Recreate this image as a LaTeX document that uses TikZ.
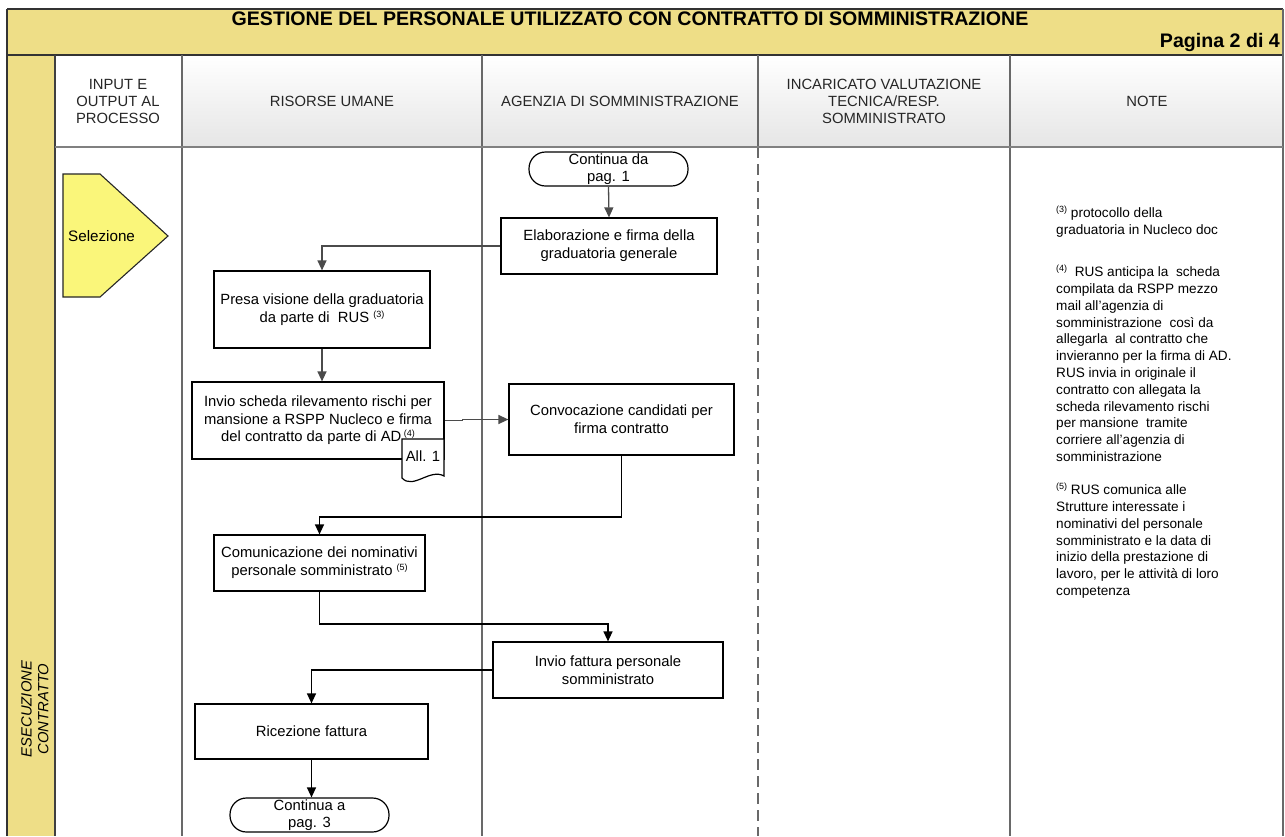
\documentclass[tikz,border=0pt]{standalone}
\usepackage{fontspec}
\setmainfont{Liberation Sans}
\usetikzlibrary{arrows.meta,calc}
\definecolor{band}{RGB}{238,222,135}
\definecolor{selfill}{RGB}{250,246,122}
\definecolor{rulec}{RGB}{105,105,105}
\definecolor{conn}{RGB}{75,75,75}
\newcommand{\boxfont}{\fontsize{14.8}{18}\selectfont}
\newcommand{\hdrfont}{\fontsize{14.8}{17}\selectfont}
\newcommand{\notefont}{\fontsize{13.6}{16.8}\selectfont}
\newcommand{\fnref}[1]{\raisebox{5pt}{\fontsize{9}{9}\selectfont(#1)}}
\begin{document}
\begin{tikzpicture}[x=1pt,y=-1pt,
  proc/.style={draw=black, line width=1.2pt, fill=white, align=center, font=\boxfont, inner sep=0pt},
  term/.style={proc, rounded corners=16.5pt},
  flow/.style={draw=conn, line width=1.3pt, -{Triangle[length=10pt,width=9pt]}},
  flowb/.style={draw=black, line width=1.3pt, -{Triangle[length=10pt,width=9pt]}},
  hdr/.style={align=center, font=\hdrfont, text=black!85, inner sep=0pt},
  lane/.style={draw=rulec, line width=1.3pt},
  note/.style={align=left, font=\notefont, inner sep=0pt, anchor=north west}]
\useasboundingbox (0,0) rectangle (1285,836);
\fill[white] (0,0) rectangle (1285,836);
% title band and left strip
\fill[band] (7,9) rectangle (1283,55);
\fill[band] (7,55) rectangle (55,836);
% header cells
\fill[white] (55,55) rectangle (182,147);
\shade[top color=white, bottom color=black!10] (182,55) rectangle (1283,147);
% frame lines
\draw[black!80, line width=1.2pt] (7,9) -- (1283,9);
\draw[black!80, line width=1.2pt] (7,55) -- (1283,55);
\draw[black!80, line width=1.2pt] (7,9) -- (7,836);
\draw[lane] (1283,9) -- (1283,836);
\draw[black!75, line width=1.2pt] (55,55) -- (55,836);
\draw[lane] (182,55) -- (182,836);
\draw[lane] (482,55) -- (482,836);
\draw[lane] (758,55) -- (758,147);
\draw[lane, dash pattern=on 11pt off 6pt] (758,147) -- (758,836);
\draw[lane] (1010,55) -- (1010,836);
\draw[draw=black!50, line width=2.2pt] (55,147) -- (1283,147);
% titles
\node[font=\bfseries\fontsize{19.6}{22}\selectfont, inner sep=0pt] (title) at (630,19) {GESTIONE DEL PERSONALE UTILIZZATO CON CONTRATTO DI SOMMINISTRAZIONE};
\node[font=\bfseries\fontsize{19.6}{22}\selectfont, inner sep=0pt, anchor=east] (pag) at (1280,42) {Pagina 2 di 4};
% header labels
\node[hdr] (h1) at (118,101) {INPUT E\\OUTPUT AL\\PROCESSO};
\node[hdr] (h2) at (332,101) {RISORSE UMANE};
\node[hdr] (h3) at (620,101) {AGENZIA DI SOMMINISTRAZIONE};
\node[hdr] (h4) at (884,101) {INCARICATO VALUTAZIONE\\TECNICA/RESP.\\SOMMINISTRATO};
\node[hdr] (h5) at (1147,101) {NOTE};
% phase label
\node[hdr, rotate=90, font=\itshape\fontsize{14.8}{16.7}\selectfont, text=black] (fase) at (35,709) {ESECUZIONE\\CONTRATTO};
% Selezione input
\draw[fill=selfill, draw=black!85, line width=1.1pt] (63,174) -- (100,174) -- (168,236) -- (100,297) -- (63,297) -- cycle;
\node[font=\fontsize{15.2}{18}\selectfont, anchor=west, inner sep=0pt] (sel) at (68,236) {Selezione};
% process nodes
\node[term, minimum width=159pt, minimum height=34pt] (cont1) at (608.5,169) {Continua da\\[-1pt]pag. 1};
\node[proc, minimum width=216pt, minimum height=56pt] (elab) at (609,246) {Elaborazione e firma della\\graduatoria generale};
\node[proc, minimum width=216pt, minimum height=77pt] (presa) at (322,309.5) {Presa visione della graduatoria\\da parte di \ RUS \fnref{3}};
\node[proc, minimum width=252pt, minimum height=77pt, font=\fontsize{14.8}{17.5}\selectfont] (invio) at (318,420.5) {Invio scheda rilevamento rischi per\\mansione a RSPP Nucleco e firma\\del contratto da parte di AD\,\fnref{4}};
\node[proc, minimum width=225pt, minimum height=71pt] (conv) at (621.5,419.5) {Convocazione candidati per\\firma contratto};
\node[proc, minimum width=211pt, minimum height=56pt] (comu) at (319.5,563) {Comunicazione dei nominativi\\personale somministrato \fnref{5}};
\node[proc, minimum width=230pt, minimum height=56pt] (fatt) at (608,670) {Invio fattura personale\\somministrato};
\node[proc, minimum width=233pt, minimum height=55pt] (ric) at (311.5,731.5) {Ricezione fattura};
\node[term, minimum width=159pt, minimum height=34pt] (cont3) at (309.5,815) {Continua a\\[-1pt]pag. 3};
% document All. 1
\draw[fill=white, draw=black, line width=1.2pt] (402,439) -- (402,478) .. controls (413,490) and (430,468) .. (444,476) -- (444,439) -- cycle;
\node[font=\boxfont, inner sep=0pt] (all1) at (423,456) {All. 1};
% connectors
\draw[flow] (cont1.south) -- (elab.north);
\draw[flow] (elab.west) -| (presa.north);
\draw[flow] (presa.south) -- (presa.south |- invio.north);
\draw[flow] (invio.east) -- ++(18,0) |- (conv.west);
\draw[flowb] (conv.south) -- (conv.south |- 0,517) -| (comu.north);
\draw[flowb] (comu.south) -- (comu.south |- 0,624) -| (fatt.north);
\draw[flowb] (fatt.west) -| (ric.north);
\draw[flowb] (ric.south) -- (ric.south |- cont3.north);
% notes
\node[note] (n3) at (1056,206) {\fnref{3} protocollo della\\graduatoria in Nucleco doc};
\node[note] (n4) at (1056,265) {\fnref{4}\ \ RUS anticipa la \ scheda\\compilata da RSPP mezzo\\mail all’agenzia di\\somministrazione \ così da\\allegarla \ al contratto che\\invieranno per la firma di AD.\\RUS invia in originale il\\contratto con allegata la\\scheda rilevamento rischi\\per mansione \ tramite\\corriere all’agenzia di\\somministrazione};
\node[note] (n5) at (1056,483) {\fnref{5} RUS comunica alle\\Strutture interessate i\\nominativi del personale\\somministrato e la data di\\inizio della prestazione di\\lavoro, per le attività di loro\\competenza};
\end{tikzpicture}
\end{document}
